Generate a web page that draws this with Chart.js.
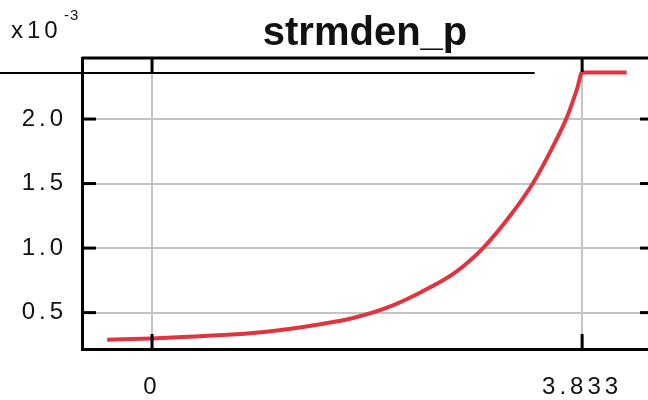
<!DOCTYPE html>
<html>
<head>
<meta charset="utf-8">
<script src="https://cdn.jsdelivr.net/npm/chart.js@4/dist/chart.umd.min.js"></script>
<style>
  html, body { margin: 0; padding: 0; background: #fff; }
  #wrap { width: 648px; height: 400px; }
</style>
</head>
<body>
<div id="wrap"><canvas id="c"></canvas></div>
<script>
/* =========================
   DATA
========================= */
const chartTitle = "strmden_p";
const yScaleText = "x10";
const yExponent = "-3";

const xTicks = [0, 3.833];
const yTicks = [0.5, 1.0, 1.5, 2.0];

const xRange = [-0.624, 4.42];
const yRange = [0.218, 2.473];

// red curve (units of 1e-3)
const curveX = [-0.40, 0, 0.5, 1.0, 1.5, 1.8, 2.1, 2.4, 2.7, 2.95, 3.2, 3.4, 3.58, 3.7, 3.79, 3.833, 4.23];
const curveY = [0.29, 0.30, 0.32, 0.35, 0.41, 0.46, 0.54, 0.66, 0.81, 1.00, 1.26, 1.51, 1.80, 2.02, 2.24, 2.36, 2.36];

// black reference line near the top
const refX = [-1.355, 3.41];
const refY = [2.356, 2.356];

/* =========================
   HELPERS
========================= */
const FONT = "'Liberation Sans', Arial, sans-serif";
const toPoints = (xs, ys) => xs.map((x, i) => ({ x, y: ys[i] }));

function seg(ctx, x1, y1, x2, y2) {
  ctx.beginPath();
  ctx.moveTo(x1, y1);
  ctx.lineTo(x2, y2);
  ctx.stroke();
}

/* frame: top border, inner tick marks, title, exponent */
const framePlugin = {
  id: "frame",
  beforeDraw(chart) {
    chart.ctx.letterSpacing = "4px";
  },
  afterDraw(chart) {
    const { ctx, chartArea: a, scales: { x, y } } = chart;
    ctx.save();
    ctx.strokeStyle = "#000";
    ctx.lineWidth = 3;
    seg(ctx, a.left, a.top, a.right, a.top);

    yTicks.forEach(v => {
      const p = y.getPixelForValue(v);
      seg(ctx, a.left, p, a.left + 14, p);
      seg(ctx, a.right - 8, p, a.right, p);
    });
    xTicks.forEach(v => {
      const p = x.getPixelForValue(v);
      seg(ctx, p, a.bottom, p, a.bottom - 15);
      seg(ctx, p, a.top, p, a.top + 14);
    });

    ctx.fillStyle = "#111";
    ctx.textBaseline = "alphabetic";
    ctx.textAlign = "center";
    ctx.letterSpacing = "0px";
    ctx.font = "bold 40px " + FONT;
    ctx.fillText(chartTitle, (a.left + a.right) / 2, 45);

    ctx.textAlign = "left";
    ctx.letterSpacing = "4px";
    ctx.font = "24px " + FONT;
    ctx.fillText(yScaleText, 11, 38);
    ctx.letterSpacing = "1px";
    ctx.font = "15px " + FONT;
    ctx.fillText(yExponent, 64, 20);
    ctx.restore();
  }
};

/* =========================
   CHART
========================= */
new Chart(document.getElementById("c"), {
  type: "line",
  data: {
    datasets: [
      {
        data: toPoints(refX, refY),
        borderColor: "#000",
        borderWidth: 2,
        pointRadius: 0,
        clip: false
      },
      {
        data: toPoints(curveX, curveY),
        borderColor: "#e0343f",
        borderWidth: 4,
        pointRadius: 0,
        cubicInterpolationMode: "monotone"
      }
    ]
  },
  options: {
    responsive: true,
    maintainAspectRatio: false,
    animation: false,
    layout: { padding: { top: 58, right: 0, left: 0, bottom: 0 } },
    plugins: {
      legend: { display: false },
      title: { display: false },
      tooltip: { enabled: false }
    },
    scales: {
      x: {
        type: "linear",
        min: xRange[0],
        max: xRange[1],
        afterBuildTicks: s => { s.ticks = xTicks.map(v => ({ value: v })); },
        afterFit: s => { s.height = 51; },
        grid: { color: "#c4c4c4", lineWidth: 2, drawTicks: false },
        border: { color: "#000", width: 3 },
        ticks: {
          padding: 24,
          maxRotation: 0,
          color: "#111",
          font: { family: FONT, size: 24 },
          callback: v => String(v)
        }
      },
      y: {
        type: "linear",
        min: yRange[0],
        max: yRange[1],
        afterBuildTicks: s => { s.ticks = yTicks.map(v => ({ value: v })); },
        afterFit: s => { s.width = 82; },
        grid: { color: "#c4c4c4", lineWidth: 2, drawTicks: false },
        border: { color: "#000", width: 3 },
        ticks: {
          padding: 15,
          color: "#111",
          font: { family: FONT, size: 24 },
          callback: v => v.toFixed(1)
        }
      }
    }
  },
  plugins: [framePlugin]
});
</script>
</body>
</html>
